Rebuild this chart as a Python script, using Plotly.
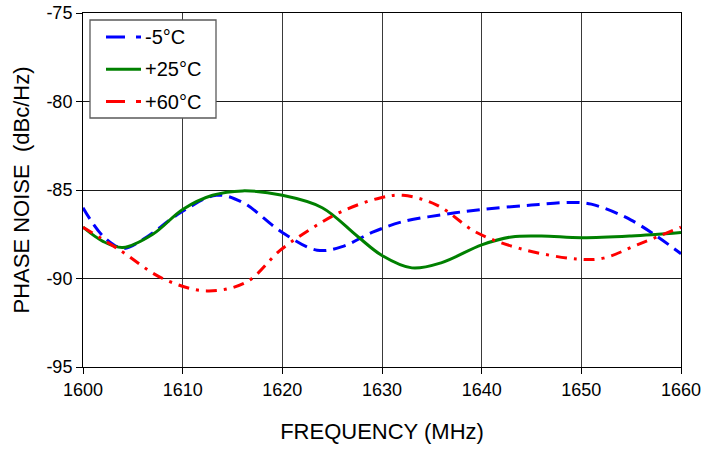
import plotly.graph_objects as go

# Data
f_m5 = [1600, 1602, 1604, 1606, 1610, 1613.4, 1616, 1620, 1623.5, 1626, 1629, 1632, 1636, 1640, 1645, 1649, 1651, 1655, 1660]
v_m5 = [-86.0, -87.6, -88.3, -87.8, -86.2, -85.3, -85.7, -87.4, -88.4, -88.2, -87.4, -86.8, -86.4, -86.1, -85.85, -85.7, -85.8, -86.7, -88.6]

f_25 = [1600, 1602, 1604, 1607, 1610, 1613, 1616, 1620, 1624, 1627.5, 1630, 1633, 1636, 1640, 1643, 1646, 1650, 1655, 1660]
v_25 = [-87.1, -87.9, -88.25, -87.5, -86.1, -85.3, -85.05, -85.3, -86.0, -87.6, -88.7, -89.4, -89.1, -88.1, -87.65, -87.6, -87.7, -87.6, -87.4]

f_60 = [1600, 1603.7, 1608, 1612.4, 1616.4, 1619.8, 1623, 1626, 1629.8, 1632.1, 1635.5, 1639.5, 1643.8, 1649.5, 1652.2, 1655.6, 1660]
v_60 = [-87.1, -88.4, -90.0, -90.7, -90.2, -88.4, -87.15, -86.2, -85.45, -85.3, -85.85, -87.4, -88.3, -88.9, -88.85, -88.1, -87.1]

names = ["-5°C", "+25°C", "+60°C"]
colors = ["#0000ff", "#008000", "#ff0000"]
dashes = ["13px,7px", "solid", "11px,7px,3px,7px"]
legend_dashes = ["19px,11px", "solid", "19px,11px,5px,11px"]
x_ticks = [1600, 1610, 1620, 1630, 1640, 1650, 1660]
y_ticks = [-95, -90, -85, -80, -75]

FONT = "Liberation Sans, Arial, sans-serif"

# plot area in pixels (for legend box placement)
W, H = 703, 449
ML, MR, MT, MB = 83, 22, 13, 82
PW, PH = W - ML - MR, H - MT - MB


def px(x):
    return (x - ML) / PW


def py(y):
    return (H - MB - y) / PH


fig = go.Figure()
for f, v, n, c, d in zip([f_m5, f_25, f_60], [v_m5, v_25, v_60], names, colors, dashes):
    fig.add_trace(go.Scatter(x=f, y=v, name=n, mode="lines", showlegend=False,
                             line=dict(color=c, width=3, dash=d, shape="spline", smoothing=1.0)))

# legend box drawn as decoration
shapes = [dict(type="rect", xref="paper", yref="paper",
               x0=px(90), x1=px(216), y0=py(118), y1=py(20),
               line=dict(color="#5a5a5a", width=1.3), fillcolor="white", layer="above")]
annotations = []
for i, (n, c, d) in enumerate(zip(names, colors, legend_dashes)):
    yy = 37 + i * 32.3
    shapes.append(dict(type="line", xref="paper", yref="paper",
                       x0=px(106), x1=px(141), y0=py(yy), y1=py(yy),
                       line=dict(color=c, width=3, dash=d), layer="above"))
    annotations.append(dict(text=n, xref="paper", yref="paper", x=px(143), y=py(yy),
                            xanchor="left", yanchor="middle", showarrow=False,
                            font=dict(size=20, family=FONT, color="black")))

fig.update_layout(
    width=W, height=H,
    margin=dict(l=ML, r=MR, t=MT, b=MB, autoexpand=False),
    paper_bgcolor="white", plot_bgcolor="white",
    font=dict(family=FONT, size=18, color="black"),
    showlegend=False,
    shapes=shapes, annotations=annotations,
)
fig.update_xaxes(range=[1600, 1660], tickvals=x_ticks, ticktext=[str(v) for v in x_ticks],
                 showgrid=True, gridcolor="#3a3a3a", gridwidth=1,
                 showline=True, linecolor="black", linewidth=1, mirror=True,
                 ticks="outside", ticklen=6, tickcolor="black", automargin=False,
                 zeroline=False, tickfont=dict(size=18),
                 title=dict(text="FREQUENCY (MHz)", font=dict(size=22), standoff=25))
fig.update_yaxes(range=[-95, -75], tickvals=y_ticks, ticktext=[str(v) for v in y_ticks],
                 showgrid=True, gridcolor="#1a1a1a", gridwidth=1,
                 showline=True, linecolor="black", linewidth=1, mirror=True,
                 ticks="outside", ticklen=6, tickcolor="black", automargin=False,
                 zeroline=False, tickfont=dict(size=18),
                 title=dict(text="PHASE NOISE\u00a0\u00a0(dBc/Hz)", font=dict(size=22), standoff=10))

fig.write_html("out.html")
